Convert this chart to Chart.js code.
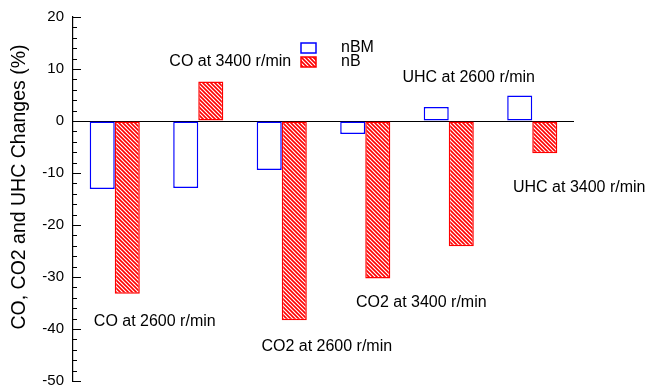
<!DOCTYPE html>
<html>
<head>
<meta charset="utf-8">
<script src="https://cdn.jsdelivr.net/npm/chart.js@4/dist/chart.umd.min.js"></script>
<style>
  html, body { margin: 0; padding: 0; background: #fff; }
</style>
</head>
<body>
<canvas id="chart" width="645" height="391"></canvas>
<script>
// groups (also used as the in-plot annotations)
const categories = ['CO at 2600 r/min', 'CO at 3400 r/min', 'CO2 at 2600 r/min',
                    'CO2 at 3400 r/min', 'UHC at 2600 r/min', 'UHC at 3400 r/min'];
const seriesNames = ['nBM', 'nB'];
const nBM = [-13.1, -12.9, -9.4, -2.5, 2.7, 4.9];
const nB = [-33.2, 7.6, -38.3, -30.3, -24.1, -6.2];
const yTicks = [-50, -40, -30, -20, -10, 0, 10, 20];

// where each group's text sits: offset from group centre (px), height in axis units
const labelSpots = [
  { dx: 40, y: -38.5 },
  { dx: 32, y: 11.4 },
  { dx: 45, y: -43.3 },
  { dx: 56, y: -35.0 },
  { dx: 20, y: 8.3 },
  { dx: 47, y: -12.9 }
];

const FONT = "'Liberation Sans', Arial, sans-serif";

// red diagonal hatch for nB
function hatch() {
  const c = document.createElement('canvas');
  c.width = 4; c.height = 4;
  const g = c.getContext('2d');
  g.fillStyle = '#fff';
  g.fillRect(0, 0, 4, 4);
  g.strokeStyle = '#ff0000';
  g.lineWidth = 1.6;
  g.beginPath();
  g.moveTo(-1, -1); g.lineTo(5, 5);
  g.moveTo(-1, 3); g.lineTo(1, 5);
  g.moveTo(3, -1); g.lineTo(5, 1);
  g.stroke();
  return g.createPattern(c, 'repeat');
}

const ctx = document.getElementById('chart').getContext('2d');
const redHatch = hatch();

const extras = {
  id: 'extras',
  afterDatasetsDraw(chart) {
    const { ctx, chartArea, scales: { x, y } } = chart;
    ctx.save();

    // inward ticks, minor every 2
    ctx.strokeStyle = '#000';
    ctx.lineWidth = 1;
    for (let v = yTicks[0]; v <= yTicks[yTicks.length - 1]; v += 2) {
      const py = Math.round(y.getPixelForValue(v)) + 0.5;
      const len = v % 10 === 0 ? 8 : 4;
      ctx.beginPath();
      ctx.moveTo(chartArea.left, py);
      ctx.lineTo(chartArea.left + len, py);
      ctx.stroke();
    }

    // group annotations
    ctx.fillStyle = '#000';
    ctx.font = '16px ' + FONT;
    ctx.textAlign = 'center';
    ctx.textBaseline = 'middle';
    categories.forEach((c, i) => {
      const s = labelSpots[i];
      ctx.fillText(c, x.getPixelForValue(i) + s.dx, y.getPixelForValue(s.y));
    });

    // y title
    ctx.save();
    ctx.translate(20, 187);
    ctx.rotate(-Math.PI / 2);
    ctx.font = '19.5px ' + FONT;
    ctx.fillText('CO, CO2 and UHC Changes (%)', 0, 0);
    ctx.restore();

    // legend
    const ds = chart.data.datasets;
    ctx.font = '16px ' + FONT;
    ctx.textAlign = 'left';
    ds.forEach((d, i) => {
      const top = 43 + i * 14;
      ctx.fillStyle = d.backgroundColor;
      ctx.fillRect(301, top, 15, 10);
      ctx.strokeStyle = d.borderColor;
      ctx.lineWidth = 1.5;
      ctx.strokeRect(301, top, 15, 10);
      ctx.fillStyle = '#000';
      ctx.fillText(d.label, 341, top + 5);
    });

    ctx.restore();
  }
};

new Chart(ctx, {
  type: 'bar',
  data: {
    labels: categories,
    datasets: [
      {
        label: seriesNames[0],
        data: nBM,
        backgroundColor: '#ffffff',
        borderColor: '#0000ff',
        borderWidth: 1.5,
        borderSkipped: false
      },
      {
        label: seriesNames[1],
        data: nB,
        backgroundColor: redHatch,
        borderColor: '#ff0000',
        borderWidth: 1.5,
        borderSkipped: false
      }
    ]
  },
  options: {
    responsive: false,
    animation: false,
    layout: { padding: { left: 0, right: 71, top: 17, bottom: 10 } },
    plugins: {
      legend: { display: false },
      tooltip: { enabled: false }
    },
    datasets: {
      bar: { categoryPercentage: 0.6, barPercentage: 1.0 }
    },
    scales: {
      x: { display: false },
      y: {
        min: yTicks[0],
        max: yTicks[yTicks.length - 1],
        afterBuildTicks(scale) {
          scale.ticks = yTicks.map(v => ({ value: v }));
        },
        afterFit(scale) {
          scale.width = 73;
          scale.paddingTop = 0;
          scale.paddingBottom = 0;
        },
        ticks: {
          color: '#000',
          font: { family: FONT, size: 15 },
          padding: 9
        },
        grid: {
          drawTicks: false,
          color: c => (c.tick && c.tick.value === 0 ? '#000' : 'rgba(0,0,0,0)'),
          lineWidth: 1
        },
        border: { display: true, color: '#000', width: 1.2 }
      }
    }
  },
  plugins: [extras]
});
</script>
</body>
</html>
